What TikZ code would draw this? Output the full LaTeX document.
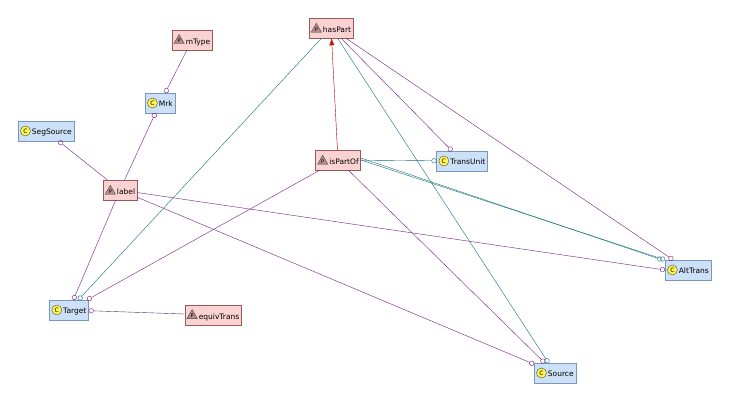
\documentclass[tikz,border=0pt]{standalone}
\usepackage{fontspec}
\setmainfont{DejaVu Sans}
\usetikzlibrary{arrows.meta,shapes.geometric}
\definecolor{classfill}{RGB}{204,224,248}
\definecolor{classline}{RGB}{120,150,190}
\definecolor{propfill}{RGB}{250,210,210}
\definecolor{propline}{RGB}{150,90,90}
\definecolor{objprop}{RGB}{110,30,130}
\definecolor{dataprop}{RGB}{20,110,120}
\definecolor{subprop}{RGB}{200,20,20}
\newcommand{\cicon}{\tikz[baseline=-0.8ex]\node[circle,draw=black!70,fill=yellow!70,minimum size=10pt,inner sep=0pt,font=\fontsize{6}{6}\selectfont]{C};}
\newcommand{\picon}{\tikz[baseline=-0.8ex]\node[isosceles triangle,isosceles triangle apex angle=60,shape border rotate=90,draw=black!70,fill=propline!70,minimum height=9pt,minimum width=10pt,inner sep=0pt,font=\fontsize{5}{5}\selectfont]{P};}
\tikzstyle{cls}=[draw=classline,fill=classfill,inner sep=2pt,minimum height=20pt,font=\fontsize{7.5}{8}\selectfont]
\tikzstyle{prop}=[draw=propline,fill=propfill,inner sep=2pt,minimum height=20pt,font=\fontsize{7.5}{8}\selectfont]
\tikzset{obj/.style={draw=objprop,-{Circle[open,length=5pt]}}}
\tikzset{dat/.style={draw=dataprop,-{Circle[open,length=5pt]}}}

\begin{document}
\begin{tikzpicture}[x=1pt,y=-1pt]
  \useasboundingbox (0,0) rectangle (739,404);
  \draw (331,28) node[prop] (hasPart) {\picon\,hasPart};
  \draw (192,40) node[prop] (mType) {\picon\,mType};
  \draw (160,103) node[cls] (Mrk) {\cicon\,Mrk};
  \draw (46,131) node[cls] (SegSource) {\cicon\,SegSource};
  \draw (120,190) node[prop] (label) {\picon\,label};
  \draw (338,160) node[prop] (isPartOf) {\picon\,isPartOf};
  \draw (462,161) node[cls] (TransUnit) {\cicon\,TransUnit};
  \draw (688,270) node[cls] (AltTrans) {\cicon\,AltTrans};
  \draw (69,310) node[cls] (Target) {\cicon\,Target};
  \draw (213,315) node[prop] (equivTrans) {\picon\,equivTrans};
  \draw (555,373) node[cls] (Source) {\cicon\,Source};

  \draw[obj] (mType) -- (Mrk);
  \draw[obj] (label) -- (Mrk);
  \draw[obj] (label) -- (SegSource);
  \draw[obj] (label) -- (Target);
  \draw[obj] (label) -- (AltTrans.west);
  \draw[obj] (label) -- (Source);
  \draw[obj] (equivTrans) -- (Target);

  \draw[dat] (hasPart) -- (Target);
  \draw[obj] (hasPart) -- (TransUnit);
  \draw[obj] (hasPart) -- (AltTrans);
  \draw[dat] (hasPart) -- (Source);

  \draw[dat] (isPartOf) -- (TransUnit);
  \draw[dat] (isPartOf.east) -- (AltTrans.north west);
  \draw[dat] ([yshift=2pt]isPartOf.east) -- ([xshift=-3pt]AltTrans.north west);
  \draw[obj] (isPartOf) -- (Target);
  \draw[obj] (isPartOf) -- (Source);

  \draw[-{Latex[length=7pt]},draw=subprop,fill=subprop] (isPartOf) -- (hasPart);
\end{tikzpicture}
\end{document}
